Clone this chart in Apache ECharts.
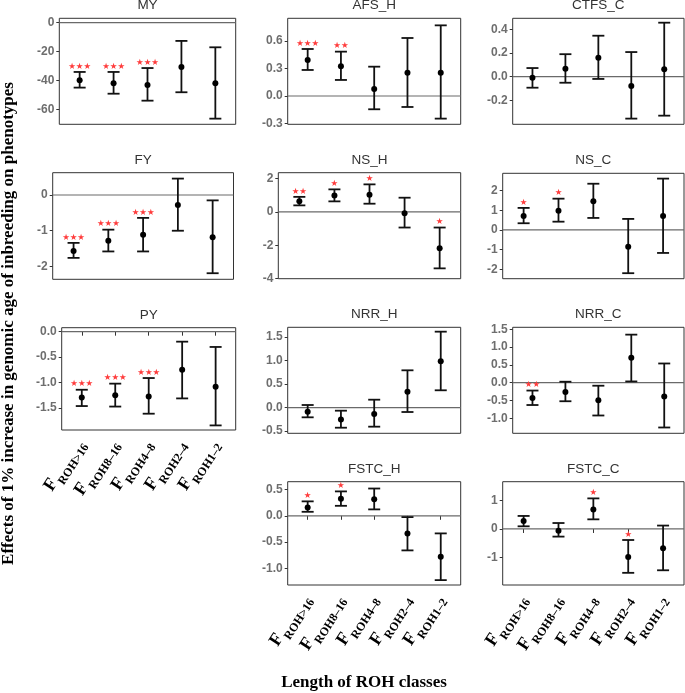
<!DOCTYPE html>
<html><head><meta charset="utf-8">
<script src="https://cdn.jsdelivr.net/npm/echarts@6/dist/echarts.min.js"></script>
<style>html,body{margin:0;padding:0;background:#fff}#c{width:685px;height:693px}</style>
</head><body><div id="c"></div>
<script>
// ---------- DATA ----------
const categories = ['ROH>16', 'ROH8–16', 'ROH4–8', 'ROH2–4', 'ROH1–2'];
const xTitle = 'Length of ROH classes';
const yTitle = 'Effects of 1% increase in genomic age of inbreeding on phenotypes';

const MY_est = [-39.8, -41.8, -43.0, -30.6, -41.8];
const MY_low = [-44.8, -49.0, -53.8, -48.0, -66.2];
const MY_up  = [-34.0, -34.0, -31.3, -12.6, -17.0];
const MY_sig = ['***', '***', '***', '', ''];
const MY_ticks = ['0', '-20', '-40', '-60'];
const MY_range = [-70.1, 3.0];

const FY_est = [-1.57, -1.28, -1.11, -0.28, -1.18];
const FY_low = [-1.76, -1.58, -1.58, -1.00, -2.19];
const FY_up  = [-1.34, -0.97, -0.64, 0.46, -0.15];
const FY_sig = ['***', '***', '***', '', ''];
const FY_ticks = ['0', '-1', '-2'];
const FY_range = [-2.36, 0.625];

const PY_est = [-1.29, -1.25, -1.27, -0.745, -1.08];
const PY_low = [-1.46, -1.47, -1.61, -1.31, -1.84];
const PY_up  = [-1.14, -1.02, -0.91, -0.196, -0.30];
const PY_sig = ['***', '***', '***', '', ''];
const PY_ticks = ['0.0', '-0.5', '-1.0', '-1.5'];
const PY_range = [-1.93, 0.078];

const AFS_H_est = [0.393, 0.324, 0.076, 0.255, 0.255];
const AFS_H_low = [0.284, 0.175, -0.145, -0.12, -0.247];
const AFS_H_up  = [0.513, 0.484, 0.32, 0.633, 0.771];
const AFS_H_sig = ['***', '**', '', '', ''];
const AFS_H_ticks = ['0.6', '0.3', '0.0', '-0.3'];
const AFS_H_range = [-0.309, 0.848];

const NS_H_est = [0.63, 0.98, 1.02, -0.08, -2.18];
const NS_H_low = [0.39, 0.63, 0.49, -0.94, -3.39];
const NS_H_up  = [0.90, 1.35, 1.65, 0.85, -0.94];
const NS_H_sig = ['**', '*', '*', '', '*'];
const NS_H_ticks = ['2', '0', '-2', '-4'];
const NS_H_range = [-4.01, 2.35];

const NRR_H_est = [-0.085, -0.25, -0.134, 0.34, 0.987];
const NRR_H_low = [-0.205, -0.426, -0.404, -0.092, 0.37];
const NRR_H_up  = [0.057, -0.064, 0.17, 0.795, 1.617];
const NRR_H_sig = ['', '', '', '', ''];
const NRR_H_ticks = ['1.5', '1.0', '0.5', '0.0', '-0.5'];
const NRR_H_range = [-0.545, 1.71];

const FSTC_H_est = [0.16, 0.325, 0.313, -0.336, -0.78];
const FSTC_H_low = [0.076, 0.19, 0.122, -0.66, -1.227];
const FSTC_H_up  = [0.275, 0.465, 0.52, -0.025, -0.336];
const FSTC_H_sig = ['*', '*', '', '', ''];
const FSTC_H_ticks = ['0.5', '0.0', '-0.5', '-1.0'];
const FSTC_H_range = [-1.32, 0.65];

const CTFS_C_est = [-0.008, 0.068, 0.16, -0.078, 0.062];
const CTFS_C_low = [-0.093, -0.051, -0.019, -0.354, -0.329];
const CTFS_C_up  = [0.073, 0.19, 0.346, 0.208, 0.456];
const CTFS_C_sig = ['', '', '', '', ''];
const CTFS_C_ticks = ['0.4', '0.2', '0.0', '-0.2'];
const CTFS_C_range = [-0.402, 0.493];

const NS_C_est = [0.71, 0.98, 1.46, -0.85, 0.71];
const NS_C_low = [0.34, 0.42, 0.61, -2.2, -1.17];
const NS_C_up  = [1.12, 1.59, 2.35, 0.56, 2.61];
const NS_C_sig = ['*', '*', '', '', ''];
const NS_C_ticks = ['2', '1', '0', '-1', '-2'];
const NS_C_range = [-2.48, 2.88];

const NRR_C_est = [-0.43, -0.26, -0.494, 0.698, -0.39];
const NRR_C_low = [-0.626, -0.52, -0.92, 0.036, -1.257];
const NRR_C_up  = [-0.22, 0.028, -0.084, 1.35, 0.54];
const NRR_C_sig = ['**', '', '', '', ''];
const NRR_C_ticks = ['1.5', '1.0', '0.5', '0.0', '-0.5', '-1.0'];
const NRR_C_range = [-1.42, 1.556];

const FSTC_C_est = [0.28, -0.06, 0.69, -0.99, -0.68];
const FSTC_C_low = [0.094, -0.27, 0.34, -1.55, -1.46];
const FSTC_C_up  = [0.46, 0.21, 1.08, -0.39, 0.12];
const FSTC_C_sig = ['', '', '*', '*', ''];
const FSTC_C_ticks = ['1', '0', '-1'];
const FSTC_C_range = [-1.98, 1.67];

// ---------- LAYOUT (pixel boxes: left, top, right, bottom) ----------
const panels = [
  {name: 'MY', est: MY_est, low: MY_low, up: MY_up, sig: MY_sig, ticks: MY_ticks, range: MY_range, box: [59.3, 18.3, 235.7, 124.3], bottom: false},
  {name: 'FY', est: FY_est, low: FY_low, up: FY_up, sig: FY_sig, ticks: FY_ticks, range: FY_range, box: [52.7, 172.7, 233.5, 279.3], bottom: false},
  {name: 'PY', est: PY_est, low: PY_low, up: PY_up, sig: PY_sig, ticks: PY_ticks, range: PY_range, box: [61.7, 327.7, 235.7, 430], bottom: true},
  {name: 'AFS_H', est: AFS_H_est, low: AFS_H_low, up: AFS_H_up, sig: AFS_H_sig, ticks: AFS_H_ticks, range: AFS_H_range, box: [287.7, 18.3, 460.7, 124.3], bottom: false},
  {name: 'NS_H', est: NS_H_est, low: NS_H_low, up: NS_H_up, sig: NS_H_sig, ticks: NS_H_ticks, range: NS_H_range, box: [278.3, 172.7, 460.7, 278.7], bottom: false},
  {name: 'NRR_H', est: NRR_H_est, low: NRR_H_low, up: NRR_H_up, sig: NRR_H_sig, ticks: NRR_H_ticks, range: NRR_H_range, box: [287.7, 327.3, 460.7, 433.3], bottom: false},
  {name: 'FSTC_H', est: FSTC_H_est, low: FSTC_H_low, up: FSTC_H_up, sig: FSTC_H_sig, ticks: FSTC_H_ticks, range: FSTC_H_range, box: [287.7, 481.7, 460.7, 585], bottom: true},
  {name: 'CTFS_C', est: CTFS_C_est, low: CTFS_C_low, up: CTFS_C_up, sig: CTFS_C_sig, ticks: CTFS_C_ticks, range: CTFS_C_range, box: [512.7, 18.3, 684, 124.3], bottom: false},
  {name: 'NS_C', est: NS_C_est, low: NS_C_low, up: NS_C_up, sig: NS_C_sig, ticks: NS_C_ticks, range: NS_C_range, box: [502.7, 173.3, 684, 278.7], bottom: false},
  {name: 'NRR_C', est: NRR_C_est, low: NRR_C_low, up: NRR_C_up, sig: NRR_C_sig, ticks: NRR_C_ticks, range: NRR_C_range, box: [512.7, 327.3, 684, 433.3], bottom: false},
  {name: 'FSTC_C', est: FSTC_C_est, low: FSTC_C_low, up: FSTC_C_up, sig: FSTC_C_sig, ticks: FSTC_C_ticks, range: FSTC_C_range, box: [502.7, 481.7, 684, 585], bottom: true}
];

const xPositions = [1, 2, 3, 4, 5];
const X_MIN = 0.4, X_MAX = 5.6;

// ---------- BUILD OPTION ----------
const grids = [], xAxes = [], yAxes = [], series = [], graphics = [];

panels.forEach((p, k) => {
  const [l, t, r, b] = p.box;
  grids.push({left: l, top: t, width: r - l, height: b - t, show: true,
    borderColor: '#333', borderWidth: 1, backgroundColor: 'transparent', containLabel: false});
  xAxes.push({
    gridIndex: k, type: 'value', min: X_MIN, max: X_MAX,
    axisLine: {show: false}, splitLine: {show: false},
    axisTick: {show: p.bottom, customValues: xPositions, length: 4, lineStyle: {color: '#333', width: 1}},
    axisLabel: {
      show: p.bottom, customValues: xPositions, rotate: 57, margin: 12,
      formatter: v => '{f|F}{s|' + categories[Math.round(v) - 1] + '}',
      rich: {
        f: {fontFamily: 'Liberation Serif', fontWeight: 'bold', fontSize: 18, color: '#000', verticalAlign: 'top', padding: [0, 1, 5, 0]},
        s: {fontFamily: 'Liberation Serif', fontWeight: 'bold', fontSize: 12, color: '#000', verticalAlign: 'bottom'}
      }
    }
  });
  const tickVals = p.ticks.map(Number);
  yAxes.push({
    gridIndex: k, type: 'value', min: p.range[0], max: p.range[1],
    axisLine: {show: false}, splitLine: {show: false},
    axisTick: {show: true, customValues: tickVals, length: 3, lineStyle: {color: '#333', width: 1}},
    axisLabel: {
      customValues: tickVals, margin: 5, color: '#6e6e6e', fontWeight: 700, fontSize: 12, fontFamily: 'Liberation Sans',
      formatter: v => { const i = tickVals.findIndex(tv => Math.abs(tv - v) < 1e-9); return i >= 0 ? p.ticks[i] : ''; }
    }
  });
  // zero reference line
  series.push({
    type: 'custom', xAxisIndex: k, yAxisIndex: k, z: 1, silent: true,
    data: [[0]],
    renderItem: (params, api) => {
      const a = api.coord([X_MIN, 0]), c = api.coord([X_MAX, 0]);
      return {type: 'line', shape: {x1: a[0], y1: a[1], x2: c[0], y2: c[1]}, style: {stroke: '#6a6a6a', lineWidth: 1.2}};
    }
  });
  // error bars + points + stars
  series.push({
    type: 'custom', xAxisIndex: k, yAxisIndex: k, z: 3, silent: true,
    data: xPositions.map((x, i) => [x, p.low[i], p.up[i], p.est[i], i]),
    renderItem: (params, api) => {
      const x = api.value(0), lo = api.value(1), hi = api.value(2), e = api.value(3), i = api.value(4);
      const pl = api.coord([x, lo]), ph = api.coord([x, hi]), pe = api.coord([x, e]);
      const hw = 6;
      const st = {stroke: '#111', lineWidth: 1.8};
      const children = [
        {type: 'line', shape: {x1: pl[0], y1: pl[1], x2: ph[0], y2: ph[1]}, style: st},
        {type: 'line', shape: {x1: pl[0] - hw, y1: pl[1], x2: pl[0] + hw, y2: pl[1]}, style: st},
        {type: 'line', shape: {x1: ph[0] - hw, y1: ph[1], x2: ph[0] + hw, y2: ph[1]}, style: st},
        {type: 'circle', shape: {cx: pe[0], cy: pe[1], r: 3}, style: {fill: '#000'}}
      ];
      const s = p.sig[i];
      if (s) {
        children.push({type: 'text', style: {
          text: s.replace(/\*/g, '★'), x: ph[0], y: ph[1] - 1,
          align: 'center', verticalAlign: 'bottom',
          fill: '#ff3b3b', font: '8.5px "DejaVu Sans"'
        }});
      }
      return {type: 'group', children};
    }
  });
  // panel title
  graphics.push({type: 'text', x: (l + r) / 2, y: t - 12.7, silent: true, style: {
    text: p.name, align: 'center', verticalAlign: 'middle',
    fill: '#333', font: '13.5px "Liberation Sans"'
  }});
});

graphics.push({type: 'text', x: 9, y: 323.5, rotation: Math.PI / 2, silent: true, style: {
  text: yTitle, align: 'center', verticalAlign: 'middle', fill: '#000', font: 'bold 17px "Liberation Serif"'
}});
graphics.push({type: 'text', x: 364, y: 683, silent: true, style: {
  text: xTitle, align: 'center', verticalAlign: 'middle', fill: '#000', font: 'bold 17px "Liberation Serif"'
}});

const chart = echarts.init(document.getElementById('c'), null, {renderer: 'canvas'});
chart.setOption({
  animation: false,
  backgroundColor: '#fff',
  grid: grids, xAxis: xAxes, yAxis: yAxes, series: series,
  graphic: graphics
});
</script>
</body></html>
